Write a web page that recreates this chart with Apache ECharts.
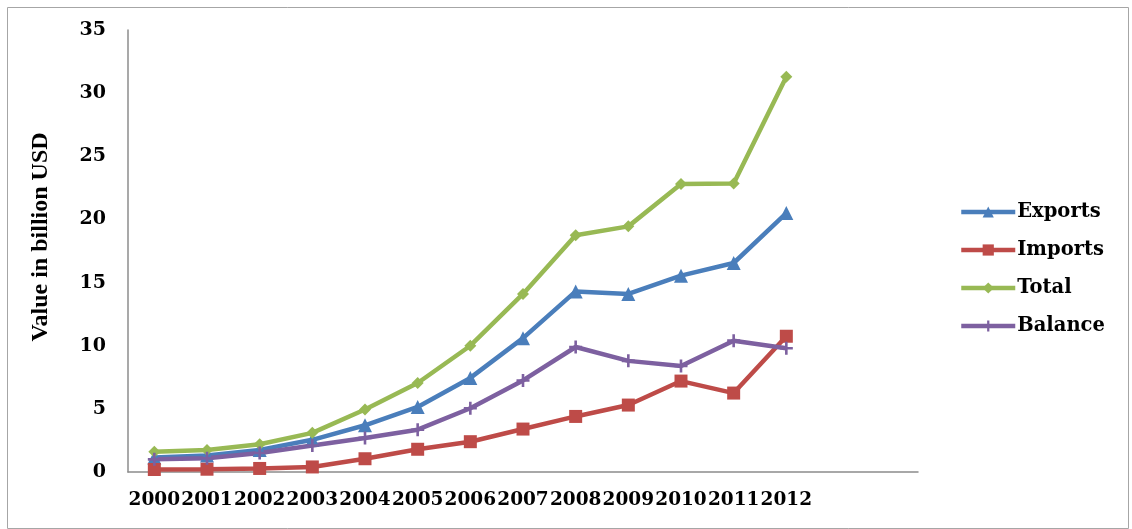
<!DOCTYPE html>
<html>
<head>
<meta charset="utf-8">
<script src="https://cdn.jsdelivr.net/npm/echarts@6/dist/echarts.min.js"></script>
<style>
  html, body { margin: 0; padding: 0; background: #fff; }
  #chart { width: 1132px; height: 529px; }
</style>
</head>
<body>
<div id="chart"></div>
<script>
// years on the category axis; the original axis also had two empty slots at the end
const years = ['2000', '2001', '2002', '2003', '2004', '2005', '2006', '2007', '2008', '2009', '2010', '2011', '2012']
const emptySlots = ['', '']

// values in billion USD
const exportsData = [1.15, 1.3, 1.75, 2.55, 3.7, 5.15, 7.45, 10.6, 14.3, 14.1, 15.55, 16.55, 20.5]
const importsData = [0.2, 0.22, 0.28, 0.4, 1.05, 1.8, 2.4, 3.4, 4.4, 5.3, 7.2, 6.25, 10.75]
const totalData = [1.6, 1.75, 2.2, 3.1, 4.95, 7.05, 10.0, 14.1, 18.75, 19.45, 22.8, 22.85, 31.3]
const balanceData = [1.0, 1.08, 1.5, 2.1, 2.7, 3.35, 5.05, 7.25, 9.9, 8.8, 8.4, 10.4, 9.8]

const yTicks = { min: 0, max: 35, interval: 5 }

const font = 'DejaVu Serif'
const plusSymbol = 'path://M4,0 L6,0 L6,4 L10,4 L10,6 L6,6 L6,10 L4,10 L4,6 L0,6 L0,4 L4,4 Z'

const chart = echarts.init(document.getElementById('chart'))

function lineSeries(name, data, color, symbol, size) {
  return {
    name: name,
    type: 'line',
    data: data,
    symbol: symbol,
    symbolSize: size,
    showAllSymbol: true,
    lineStyle: { color: color, width: 4.5 },
    itemStyle: { color: color, borderWidth: 0 },
    emphasis: { disabled: true }
  }
}

chart.setOption({
  animation: false,
  backgroundColor: '#ffffff',
  graphic: [
    {
      type: 'rect',
      left: 5,
      top: 5,
      shape: { width: 1121, height: 521 },
      style: { fill: 'none', stroke: '#a6a6a6', lineWidth: 1 },
      silent: true
    }
  ],
  grid: {
    left: 128,
    right: 214,
    top: 30,
    bottom: 57
  },
  legend: {
    orient: 'vertical',
    left: 954,
    top: 197,
    itemWidth: 54,
    itemHeight: 14,
    itemGap: 18,
    selectedMode: false,
    lineStyle: { width: 4.5 },
    textStyle: {
      fontFamily: font,
      fontWeight: 'bold',
      fontSize: 19.5,
      color: '#000',
      padding: [0, 0, 0, -3]
    },
    data: ['Exports', 'Imports', 'Total', 'Balance']
  },
  xAxis: {
    type: 'category',
    data: years.concat(emptySlots),
    boundaryGap: true,
    axisLine: { lineStyle: { color: '#8c8c8c', width: 1.5 } },
    axisTick: { show: false },
    axisLabel: {
      interval: 0,
      margin: 19,
      fontFamily: font,
      fontWeight: 'bold',
      fontSize: 18.5,
      color: '#000'
    },
    splitLine: { show: false }
  },
  yAxis: {
    type: 'value',
    min: yTicks.min,
    max: yTicks.max,
    interval: yTicks.interval,
    name: 'Value in billion USD',
    nameLocation: 'middle',
    nameGap: 75,
    nameTextStyle: {
      fontFamily: '"Liberation Serif", serif',
      fontWeight: 'bold',
      fontSize: 24,
      color: '#000',
      padding: [0, 0, 0, 28]
    },
    axisLine: { show: true, lineStyle: { color: '#8c8c8c', width: 1.5 } },
    axisTick: { show: false },
    axisLabel: {
      margin: 22,
      fontFamily: font,
      fontWeight: 'bold',
      fontSize: 19,
      color: '#000'
    },
    splitLine: { show: false }
  },
  series: [
    lineSeries('Exports', exportsData, '#4a7ebb', 'triangle', 14),
    lineSeries('Imports', importsData, '#be4b48', 'rect', 13),
    lineSeries('Total', totalData, '#98b954', 'diamond', 12),
    lineSeries('Balance', balanceData, '#7d60a0', plusSymbol, 13)
  ]
})
</script>
</body>
</html>
